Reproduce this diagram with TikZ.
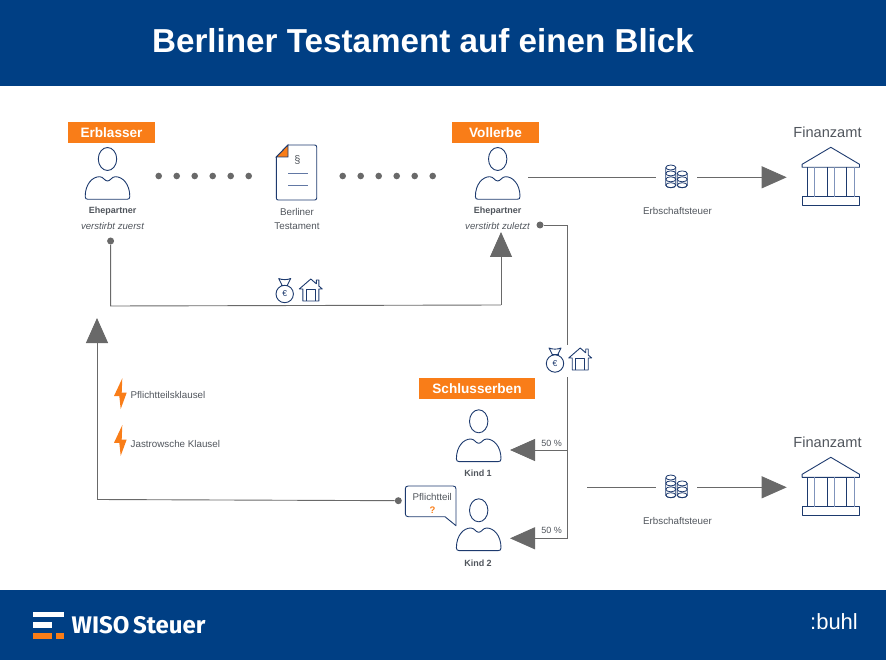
\documentclass[tikz,border=0pt]{standalone}
\usepackage{fontspec}
\setmainfont{Liberation Sans}
\newfontfamily\logofont{Fira Sans}
\usetikzlibrary{arrows.meta}

\definecolor{bandblue}{HTML}{003F84}
\definecolor{tagorange}{HTML}{F97D18}
\definecolor{linegray}{HTML}{696969}
\definecolor{textgray}{HTML}{50555C}
\definecolor{iconblue}{HTML}{1D3A6E}
\definecolor{iconlight}{HTML}{7F93BB}

\tikzset{
    band/.style={fill=bandblue, draw=none},
    tag/.style={fill=tagorange, text=white, inner sep=0pt, minimum height=21pt, font=\fontsize{13.6}{16}\selectfont\bfseries},
    small/.style={text=textgray, inner sep=0pt, font=\fontsize{9.8}{11}\selectfont},
    smallbold/.style={small, font=\fontsize{9}{11}\selectfont\bfseries},
    smallit/.style={small, font=\fontsize{9.6}{11}\selectfont\itshape},
    percent/.style={small, font=\fontsize{9}{11}\selectfont},
    office/.style={text=textgray, inner sep=0pt, font=\fontsize{14.6}{16}\selectfont},
    bullet/.style={circle, fill=linegray, inner sep=0pt, minimum size=7pt},
    link/.style={draw=linegray, line width=0.9pt},
    bigarrow/.style={link, -{Triangle[length=25pt,width=22pt]}},
    icon/.style={draw=iconblue, line width=0.9pt, line join=round},
    personicon/.pic={
        \draw[icon] (0,0) ellipse (9.2 and 11.5);
        \draw[icon] (-19.5,40.3) .. controls (-21.5,40.3) and (-22.3,39.5) .. (-22.3,37.5)
            .. controls (-22.3,25) and (-15,17.7) .. (-8,17.7)
            .. controls (-4,17.7) and (-3,22) .. (0,22)
            .. controls (3,22) and (4,17.7) .. (8,17.7)
            .. controls (15,17.7) and (22.3,25) .. (22.3,37.5)
            .. controls (22.3,39.5) and (21.5,40.3) .. (19.5,40.3) -- cycle;
    },
    coinsicon/.pic={
        \foreach \cx/\ytop/\ycount in {-5.7/-8.3/4, 5.7/-2.4/3} {
            \foreach \n in {1,...,\ycount} {
                \draw[icon, line width=0.8pt] (\cx,\ytop+\n*5.9-5.9) ellipse (5 and 2.5);
            }
            \draw[icon, line width=0.8pt] (\cx-5,\ytop) -- (\cx-5,\ytop+\ycount*5.9-5.9)
                arc[start angle=180, end angle=360, x radius=5, y radius=-2.5] -- (\cx+5,\ytop);
        }
    },
    bagicon/.pic={
        \draw[icon] (0,3.5) circle (8.7);
        \draw[icon] (-2.5,-5) -- (-6,-12) .. controls (-3,-10.5) and (3,-10.5) .. (6,-12) -- (2.5,-5);
        \draw[icon] (-3.5,-5.2) -- (3.5,-5.2);
        \node[text=iconblue, inner sep=0pt, font=\fontsize{8.5}{9}\selectfont] (-euro) at (0,3.5) {€};
    },
    houseicon/.pic={
        \draw[icon] (-8,11) -- (-8,-1) -- (-11.5,-1) -- (0,-11) -- (5.5,-6.2) -- (5.5,-10) -- (8,-10) -- (8,-4) -- (11.5,-1) -- (8,-1) -- (8,11) -- cycle;
        \draw[icon] (-4.5,11) -- (-4.5,-1) -- (4.5,-1) -- (4.5,11);
    },
    bankicon/.pic={
        \draw[icon, fill=white] (-28.7,20) -- (-28.7,17) -- (0,0) -- (28.7,17) -- (28.7,20) -- cycle;
        \draw[icon] (-28.7,49.4) rectangle (28.7,57.7);
        \foreach \cx in {-23.7,-3.7,15.7} {
            \draw[icon, line width=1.1pt] (\cx,20) -- (\cx,49.4);
        }
        \foreach \cx in {-16,3.3,23.3} {
            \draw[icon, draw=iconlight, line width=1.2pt] (\cx,20) -- (\cx,49.4);
        }
    },
    bolticon/.pic={
        \fill[tagorange] (2.3,-15.2) -- (-6,2.5) -- (-0.7,2.5) -- (0.7,15.5) -- (6.7,-0.8) -- (1.7,-0.8) -- cycle;
    },
}

\begin{document}
\begin{tikzpicture}[x=1pt, y=-1pt]
    \useasboundingbox (0,0) rectangle (886,660);

    \fill[band] (0,0) rectangle (886,86);
    \fill[band] (0,590) rectangle (886,660);
    \node[text=white, inner sep=0pt, font=\fontsize{33.2}{36}\selectfont\bfseries] (title) at (423,41) {Berliner Testament auf einen Blick};

    %%%%%%%%%%%%%%%%%%%%%%%%%%%%%%%%%%%%
    % upper row
    %%%%%%%%%%%%%%%%%%%%%%%%%%%%%%%%%%%%
    \node[tag, minimum width=87pt] (erblasser) at (111.5,132.5) {Erblasser};
    \node[tag, minimum width=87pt] (vollerbe) at (495.5,132.5) {Vollerbe};
    \pic (persa) at (107.5,159) {personicon};
    \pic (persb) at (497.7,159) {personicon};

    \node[smallbold] (ehea) at (112.7,211.5) {Ehepartner};
    \node[smallit] (zuerst) at (112.5,226) {verstirbt zuerst};
    \node[smallbold] (eheb) at (497.7,211.5) {Ehepartner};
    \node[smallit] (zuletzt) at (497.5,226) {verstirbt zuletzt};

    \foreach \i in {0,...,5} {
        \fill[linegray] (158.7+18*\i,176) circle (3.3);
        \fill[linegray] (342.7+18*\i,176) circle (3.3);
    }

    % testament sheet
    \draw[icon] (288,145) -- (314.7,145) .. controls (316,145) and (316.7,146) .. (316.7,147)
        -- (316.7,198) .. controls (316.7,199.3) and (316,200) .. (314.7,200)
        -- (278.3,200) .. controls (277,200) and (276.3,199.3) .. (276.3,198) -- (276.3,157) -- cycle;
    \fill[tagorange, draw=iconblue, line width=0.9pt] (276.3,157) -- (288,145) -- (288,157) -- cycle;
    \draw[icon, draw=iconlight!70!iconblue] (288,173.3) -- (307.7,173.3);
    \draw[icon, draw=iconlight!70!iconblue] (288,185.7) -- (307.7,185.7);
    \node[small, font=\fontsize{11}{12}\selectfont] (para) at (297.5,160) {§};
    \node[small] (berliner) at (297,211.5) {Berliner};
    \node[small] (testament) at (297,226) {Testament};

    % tax, upper
    \coordinate (steuerastart) at (528.3,177.3);
    \coordinate (steuerastop) at (655.7,177.3);
    \coordinate (steuerbstart) at (697.3,177.3);
    \coordinate (steuerbtip) at (786.7,177.3);
    \draw[link] (steuerastart) -- (steuerastop);
    \draw[bigarrow] (steuerbstart) -- (steuerbtip);
    \pic (coinsa) at (676.5,175.8) {coinsicon};
    \node[small] (steuera) at (677.5,211) {Erbschaftsteuer};
    \node[office] (amta) at (827.5,132) {Finanzamt};
    \pic (banka) at (830.8,147.3) {bankicon};

    %%%%%%%%%%%%%%%%%%%%%%%%%%%%%%%%%%%%
    % estate passing to the survivor
    %%%%%%%%%%%%%%%%%%%%%%%%%%%%%%%%%%%%
    \node[bullet] (dota) at (110.6,241) {};
    \coordinate (ecka) at (110.6,306);
    \coordinate (eckb) at (501,305);
    \coordinate (tipa) at (501,232);
    \draw[link] (dota) -- (ecka) -- (eckb);
    \draw[bigarrow] (eckb) -- (tipa);
    \pic (baga) at (284.7,290.5) {bagicon};
    \pic (housea) at (310.8,290) {houseicon};

    %%%%%%%%%%%%%%%%%%%%%%%%%%%%%%%%%%%%
    % survivor to children
    %%%%%%%%%%%%%%%%%%%%%%%%%%%%%%%%%%%%
    \node[bullet] (dotb) at (540,225) {};
    \coordinate (eckc) at (567.7,225);
    \coordinate (stema) at (567.7,345);
    \coordinate (stemb) at (567.7,377);
    \coordinate (asta) at (567.7,450);
    \coordinate (astb) at (567.7,538.3);
    \coordinate (tipk) at (510,450);
    \coordinate (tipl) at (510,538.3);
    \draw[link] (dotb) -- (eckc) -- (stema);
    \draw[link] (stemb) -- (astb);
    \draw[bigarrow] (asta) -- (tipk);
    \draw[bigarrow] (astb) -- (tipl);
    \pic (bagb) at (555,360) {bagicon};
    \pic (houseb) at (580.2,359) {houseicon};
    \node[percent] (fifa) at (551.7,443.5) {50 \%};
    \node[percent] (fifb) at (551.7,530.7) {50 \%};

    \node[tag, minimum width=116pt] (schluss) at (477,388.5) {Schlusserben};
    \pic (kinda) at (478.7,421.3) {personicon};
    \pic (kindb) at (478.7,510.3) {personicon};
    \node[smallbold] (kindatext) at (478,473.5) {Kind 1};
    \node[smallbold] (kindbtext) at (478,563.5) {Kind 2};

    % speech bubble
    \draw[icon] (408.3,486) -- (453,486) .. controls (455,486) and (456,487) .. (456,489)
        -- (456,525.7) -- (445,516.7) -- (408.3,516.7)
        .. controls (406.3,516.7) and (405.3,515.7) .. (405.3,513.7)
        -- (405.3,489) .. controls (405.3,487) and (406.3,486) .. (408.3,486) -- cycle;
    \node[small] (pflicht) at (432.3,497) {Pflichtteil};
    \node[small, text=tagorange, font=\fontsize{9.5}{11}\selectfont\bfseries] (frage) at (432.5,509.7) {?};

    %%%%%%%%%%%%%%%%%%%%%%%%%%%%%%%%%%%%
    % claim back to the first estate
    %%%%%%%%%%%%%%%%%%%%%%%%%%%%%%%%%%%%
    \node[bullet] (dotc) at (398.3,500.7) {};
    \coordinate (eckd) at (97,499.5);
    \coordinate (tipc) at (97,318);
    \draw[link] (dotc) -- (eckd);
    \draw[bigarrow] (eckd) -- (tipc);

    \pic (blitza) at (120,393.5) {bolticon};
    \pic (blitzb) at (120,440.3) {bolticon};
    \node[small, anchor=west] (klausela) at (130.5,395) {Pflichtteilsklausel};
    \node[small, anchor=west] (klauselb) at (130.5,443.5) {Jastrowsche Klausel};

    % tax, lower
    \coordinate (steuercstart) at (587,487.3);
    \coordinate (steuercstop) at (655.7,487.3);
    \coordinate (steuerdstart) at (697.3,487.3);
    \coordinate (steuerdtip) at (786.7,487.3);
    \draw[link] (steuercstart) -- (steuercstop);
    \draw[bigarrow] (steuerdstart) -- (steuerdtip);
    \pic (coinsb) at (676.5,485.8) {coinsicon};
    \node[small] (steuerb) at (677.5,521) {Erbschaftsteuer};
    \node[office] (amtb) at (827.5,442) {Finanzamt};
    \pic (bankb) at (830.8,457.3) {bankicon};

    %%%%%%%%%%%%%%%%%%%%%%%%%%%%%%%%%%%%
    % footer
    %%%%%%%%%%%%%%%%%%%%%%%%%%%%%%%%%%%%
    \fill[white] (33.3,611.7) rectangle (64.3,617.3);
    \fill[white] (33.3,622.3) rectangle (51.7,627.7);
    \fill[tagorange] (33.3,632.7) rectangle (51.7,638.7);
    \fill[tagorange] (56,632.7) rectangle (64.3,638.7);
    \node[text=white, inner sep=0pt, anchor=west, font=\fontsize{24}{28}\selectfont\logofont\bfseries] (wiso) at (71.5,625.5) {WISO\kern-2pt\ Steuer};
    \node[text=white, inner sep=0pt, font=\fontsize{22}{26}\selectfont] (buhl) at (834,622) {:buhl};
\end{tikzpicture}
\end{document}
